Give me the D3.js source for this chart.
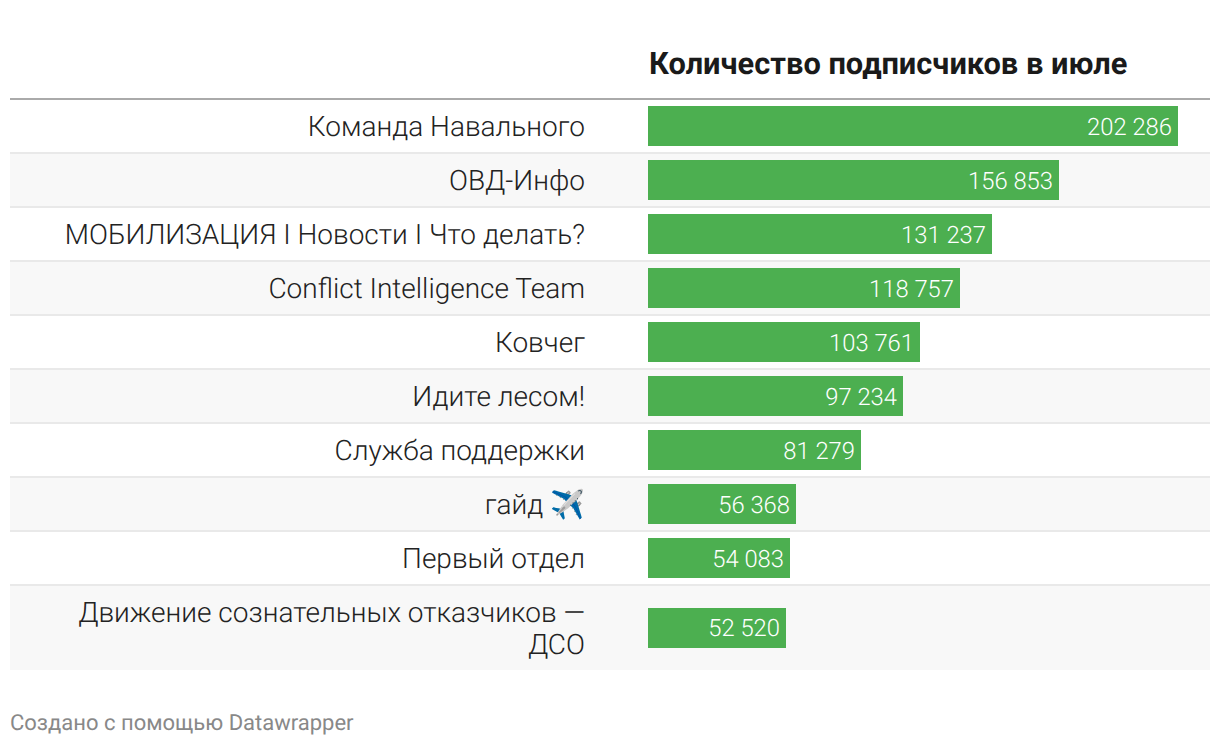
<!DOCTYPE html>
<html>
<head>
<meta charset="utf-8">
<script src="https://cdn.jsdelivr.net/npm/d3@7"></script>
<style>
  html, body { margin: 0; padding: 0; background: #fff; }
  svg { display: block; font-family: Roboto, sans-serif; text-rendering: geometricPrecision; }
</style>
</head>
<body>
<svg id="chart"></svg>
<script>
// values
const names = [
  "Команда Навального",
  "ОВД-Инфо",
  "МОБИЛИЗАЦИЯ I Новости I Что делать?",
  "Conflict Intelligence Team",
  "Ковчег",
  "Идите лесом!",
  "Служба поддержки",
  "гайд ✈️",
  "Первый отдел",
  "Движение сознательных отказчиков — ДСО"
];
const subscribers = [202286, 156853, 131237, 118757, 103761, 97234, 81279, 56368, 54083, 52520];
const columnTitle = "Количество подписчиков в июле";
const credit = "Создано с помощью Datawrapper";

const width = 1220;
const height = 746;
const left = 10;
const right = 1210;
const labelRight = 585;
const barLeft = 648;
const barRight = 1178;
const rowTop = 100;
const rowHeight = 54;
const barHeight = 40;
const lineHeight = 32;

const svg = d3.select('#chart')
  .attr('width', width)
  .attr('height', height);

// x scale for the bars, the longest bar ends at barRight
const xScale = d3.scaleLinear()
  .domain([0, d3.max(subscribers)])
  .range([barLeft, barRight]);

const formatNumber = d3.format(',');
const formatValue = (v) => formatNumber(v).replace(/,/g, ' ');

// header
svg.append('text')
  .attr('x', 649)
  .attr('y', 74)
  .attr('font-size', 30.8)
  .attr('font-weight', 700)
  .attr('fill', '#1a1a1a')
  .text(columnTitle);

svg.append('rect')
  .attr('x', left)
  .attr('y', 98)
  .attr('width', right - left)
  .attr('height', 2)
  .attr('fill', '#aaaaaa');

// split a label into lines that fit the label column
const measure = svg.append('text').attr('font-size', 28).attr('font-weight', 300);
function wrapLabel(label) {
  const lines = [];
  let line = '';
  label.split(' ').forEach((word) => {
    const next = line ? line + ' ' + word : word;
    measure.text(next);
    if (measure.node().getComputedTextLength() > 530 && line) {
      lines.push(line);
      line = word;
    } else {
      line = next;
    }
  });
  lines.push(line);
  return lines;
}

const rows = [];
let rowY = rowTop;
names.forEach((name, i) => {
  const lines = wrapLabel(name);
  const h = lines.length > 1 ? 84 : rowHeight;
  rows.push({ name, value: subscribers[i], lines, y: rowY, h, i });
  rowY += h;
});
measure.remove();

const row = svg.selectAll('g.row')
  .data(rows)
  .enter()
  .append('g')
  .attr('class', 'row')
  .attr('transform', (d) => `translate(0,${d.y})`);

// stripes on every second row
row.filter((d) => d.i % 2 === 1)
  .append('rect')
  .attr('x', left)
  .attr('y', 0)
  .attr('width', right - left)
  .attr('height', (d) => d.h)
  .attr('fill', '#f8f8f8');

// thin border under each row
row.filter((d) => d.i < rows.length - 1)
  .append('rect')
  .attr('x', left)
  .attr('y', (d) => d.h - 2)
  .attr('width', right - left)
  .attr('height', 2)
  .attr('fill', '#e9e9e9');

row.append('rect')
  .attr('class', 'bar')
  .attr('x', barLeft)
  .attr('y', (d) => (d.h - 2 - barHeight) / 2 + (d.lines.length > 1 ? 1 : 0))
  .attr('width', (d) => Math.ceil(xScale(d.value)) - barLeft)
  .attr('height', barHeight)
  .attr('fill', '#4caf50');

row.append('text')
  .attr('x', (d) => Math.ceil(xScale(d.value)) - 6)
  .attr('y', (d) => d.h / 2 + 8)
  .attr('text-anchor', 'end')
  .attr('font-size', 23.8)
  .attr('font-weight', 300)
  .attr('fill', '#fff')
  .text((d) => formatValue(d.value));

row.each(function (d) {
  const label = d3.select(this).append('text')
    .attr('text-anchor', 'end')
    .attr('font-size', 28)
    .attr('font-weight', 300)
    .attr('fill', '#222');
  d.lines.forEach((line, j) => {
    label.append('tspan')
      .attr('x', labelRight)
      .attr('y', 36 + j * lineHeight)
      .text(line);
  });
});

// footer
svg.append('text')
  .attr('x', left)
  .attr('y', 730)
  .attr('font-size', 22)
  .attr('fill', '#888')
  .text(credit);
</script>
</body>
</html>
